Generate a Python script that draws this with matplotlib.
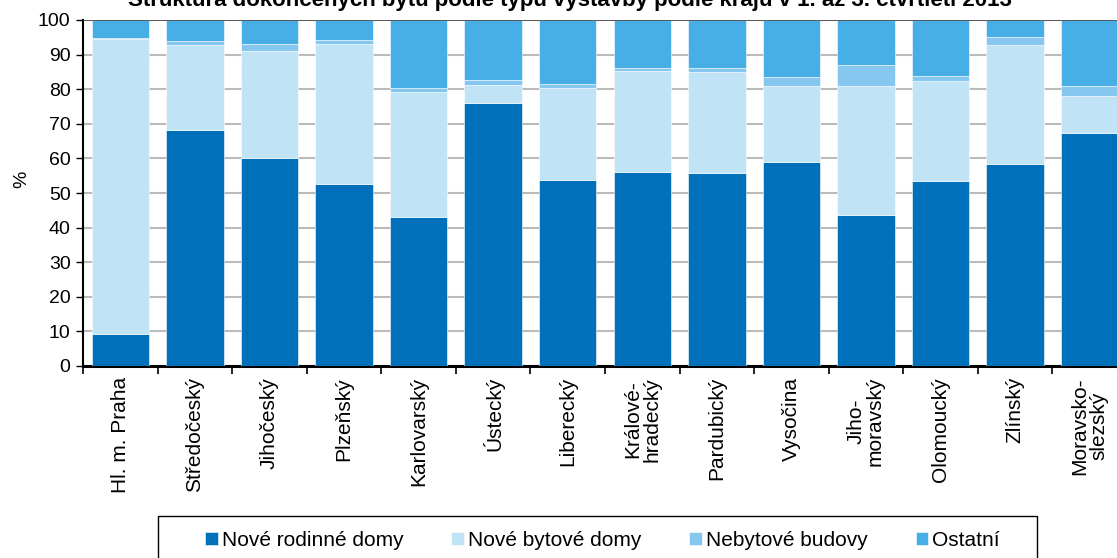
import numpy as np
import matplotlib
matplotlib.use("Agg")
import matplotlib.pyplot as plt
from matplotlib.patches import Rectangle

plt.rcParams["font.family"] = ["Liberation Sans", "DejaVu Sans"]

# kraje a podíly (%)
kraje = ["Hl. m. Praha", "Středočeský", "Jihočeský", "Plzeňský", "Karlovarský",
         "Ústecký", "Liberecký", "Králové-\nhradecký", "Pardubický", "Vysočina",
         "Jiho-\nmoravský", "Olomoucký", "Zlínský", "Moravsko-\nslezský"]
rodinne = [9.3, 68.3, 60.1, 52.7, 43.2, 75.9, 53.7, 56.1, 55.8, 59.0, 43.7, 53.4, 58.4, 67.2]
bytove = [85.2, 24.4, 30.9, 40.3, 36.1, 5.3, 26.6, 29.1, 29.2, 21.8, 37.2, 29.1, 34.5, 10.8]
nebytove = [0.3, 1.1, 2.0, 1.3, 1.1, 1.4, 1.1, 0.8, 1.0, 2.7, 6.2, 1.2, 2.2, 2.8]
ostatni = [5.2, 6.2, 7.0, 5.7, 19.6, 17.4, 18.6, 14.0, 14.0, 16.5, 12.9, 16.3, 4.9, 19.2]

serie = [("Nové rodinné domy", rodinne, "#0070BA"),
         ("Nové bytové domy", bytove, "#C0E4F6"),
         ("Nebytové budovy", nebytove, "#85C7EE"),
         ("Ostatní", ostatni, "#47AEE6")]

W, H = 1117, 558
fig = plt.figure(figsize=(W / 100, H / 100), dpi=100)
ax = fig.add_axes([83 / W, 1 - 366 / H, 1044 / W, 346 / H])

x = np.arange(len(kraje))
spodek = np.zeros(len(kraje))
for nazev, hodnoty, barva in serie:
    ax.bar(x, hodnoty, bottom=spodek, width=0.77, color=barva, label=nazev,
           edgecolor="white", linewidth=0.4, zorder=3)
    spodek += np.array(hodnoty)

ax.set_xlim(-0.5, len(kraje) - 0.5)
ax.set_ylim(0, 100)
ax.set_yticks(np.arange(0, 101, 10))
ax.yaxis.grid(True, color="#BBBBBB", linewidth=1.5, zorder=0)
ax.axhline(100, color="#444444", linewidth=1.2, zorder=4)
ax.tick_params(axis="y", labelsize=14, length=5, width=1, direction="out", pad=4)
ax.set_ylabel("%", fontsize=14)
ax.yaxis.set_label_coords(-0.051, 0.54)

ax.set_xticks(np.arange(-0.5, len(kraje), 1))
ax.set_xticklabels([])
ax.tick_params(axis="x", which="major", length=6, width=1.2)
ax.set_xticks(x, minor=True)
ax.set_xticklabels(kraje, minor=True, rotation=90, fontsize=15, ha="center", va="top",
                   linespacing=1.0)
ax.tick_params(axis="x", which="minor", length=0, pad=8)

for s in ["top", "right"]:
    ax.spines[s].set_visible(False)
ax.spines["left"].set_linewidth(1.5)
ax.spines["bottom"].set_linewidth(2.2)

fig.text(0.51, 1 - 6 / H, "Struktura dokončených bytů podle typu výstavby podle krajů v 1. až 3. čtvrtletí 2013",
         ha="center", va="baseline", fontsize=16, fontweight="bold")

# rámeček legendy
fig.patches.append(Rectangle((158 / W, -0.05), (1037 - 158) / W, 0.05 + 1 - 516 / H,
                             transform=fig.transFigure, fill=False, edgecolor="black",
                             linewidth=1.0))
leg = fig.legend(loc="center left", bbox_to_anchor=(205 / W, 1 - 540 / H), ncol=4,
                 fontsize=15, frameon=False, handlelength=0.6, handleheight=0.6,
                 handletextpad=0.2, columnspacing=2.3, borderpad=0, borderaxespad=0)

fig.savefig("out.png", dpi=100)
